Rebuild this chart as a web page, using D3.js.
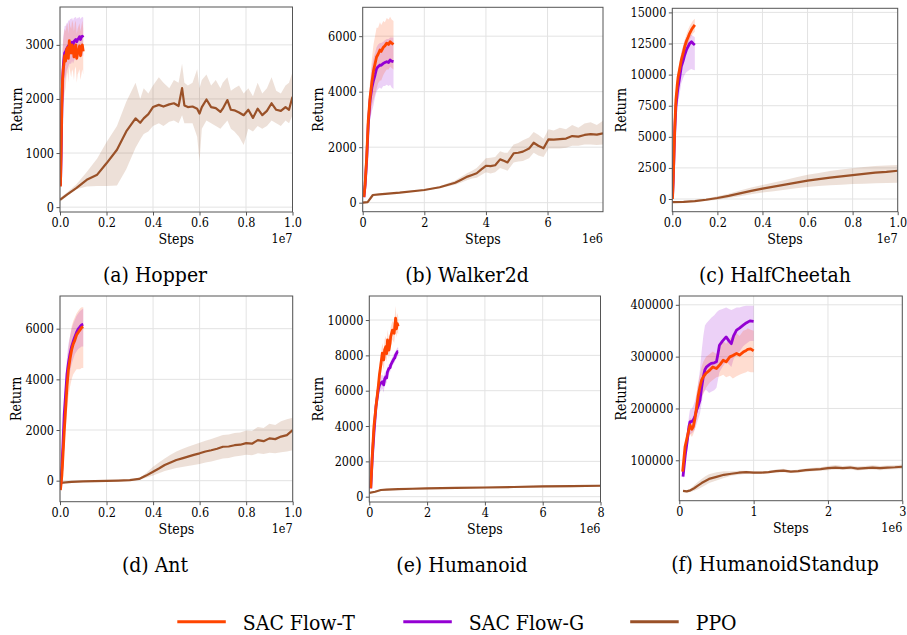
<!DOCTYPE html>
<html>
<head>
<meta charset="utf-8">
<script src="https://cdn.jsdelivr.net/npm/d3@7/dist/d3.min.js"></script>
<style>
  html, body { margin: 0; padding: 0; background: #fff; }
  svg { display: block; }
</style>
</head>
<body>
<svg id="chart" width="907" height="635"></svg>
<script>
// ---- series colours ----
const COLOR_T = "#ff4500";
const COLOR_G = "#9400d3";
const COLOR_PPO = "#9a5128";
const FONT = "'DejaVu Serif Condensed', 'DejaVu Serif', serif";
const legendLabels = ["SAC Flow-T", "SAC Flow-G", "PPO"];

// ---- Hopper (steps in millions) ----
const hopperT_x = [0.02,0.05,0.08,0.11,0.14,0.17,0.2,0.24,0.28,0.32,0.36,0.4,0.44,0.48,0.52,0.56,0.6,0.64,0.68,0.72,0.76,0.8,0.84,0.88,0.92,0.96,1.0];
const hopperT_y = [380,1100,1900,2350,2550,2650,2800,2700,2900,2950,2750,3080,2900,2850,3000,2950,2780,2950,3000,2750,2850,2900,2980,2800,2900,3000,2880];
const hopperT_lo = [300,700,1300,1700,1900,2000,2100,2200,2400,2500,2300,2600,2500,2400,2550,2500,2350,2550,2600,2300,2450,2500,2550,2350,2450,2550,2450];
const hopperT_hi = [460,1500,2500,2900,3100,3200,3300,3250,3350,3400,3200,3450,3350,3300,3450,3400,3250,3400,3450,3200,3300,3350,3400,3250,3350,3450,3300];
const hopperG_y = [400,950,1800,2350,2600,2750,2850,2880,2920,2950,2980,3000,3010,3020,3050,3000,3060,3080,3100,3060,3100,3120,3150,3100,3150,3160,3140];
const hopperG_lo = [330,650,1300,1800,2000,2100,2300,2400,2500,2550,2600,2650,2650,2650,2700,2650,2700,2750,2750,2700,2750,2800,2800,2750,2800,2800,2800];
const hopperG_hi = [470,1300,2300,2900,3150,3250,3350,3350,3400,3400,3450,3450,3480,3480,3500,3450,3500,3500,3520,3480,3500,3500,3520,3480,3500,3520,3500];
const hopperP_x = [0,0.3,0.7,1.15,1.6,2.0,2.45,2.85,3.25,3.45,3.6,3.8,4.0,4.25,4.45,4.7,4.9,5.1,5.25,5.35,5.5,5.7,5.9,6.0,6.1,6.3,6.5,6.7,6.9,7.0,7.2,7.35,7.5,7.7,7.9,8.1,8.3,8.5,8.7,8.9,9.1,9.3,9.5,9.7,9.85,10];
const hopperP_y = [135,230,350,505,600,810,1060,1400,1640,1560,1640,1720,1850,1890,1860,1900,1920,1870,2200,1880,1850,1860,1820,1730,1850,1990,1850,1830,1760,1820,1980,1800,1790,1750,1700,1800,1650,1820,1700,1780,1920,1800,1780,1850,1800,2040];
const hopperP_lo = [100,200,330,380,390,390,400,700,1100,1250,1350,1400,1500,1550,1500,1580,1600,1550,1700,1550,1550,1550,1300,850,1450,1600,1550,1500,1450,1500,1600,1450,1400,1300,1150,1450,1400,1500,1450,1500,1600,1550,1500,1600,1550,1700];
const hopperP_hi = [170,270,420,650,900,1200,1500,1950,2300,2000,2200,2100,2250,2400,2300,2200,2350,2300,2650,2300,2250,2300,2550,2200,2350,2450,2250,2350,2200,2300,2400,2150,2200,2250,2100,2200,2050,2300,2100,2200,2400,2150,2100,2250,2300,2500];

// ---- Walker2d ----
const walkerT_x = [0.04,0.08,0.13,0.18,0.24,0.3,0.35,0.4,0.45,0.5,0.56,0.6,0.67,0.72,0.78,0.84,0.89,0.94,1.0];
const walkerT_y = [200,700,1650,2950,3800,4350,4750,5000,5250,5350,5500,5450,5600,5650,5750,5700,5800,5750,5700];
const walkerT_lo = [150,450,1200,2300,3100,3500,3700,3900,4100,4300,4400,4400,4600,4700,4800,4800,4900,4850,4800];
const walkerT_hi = [250,950,2100,3500,4400,5200,5700,6000,6300,6300,6500,6400,6550,6500,6650,6600,6700,6600,6550];
const walkerG_y = [200,650,1550,2800,3700,4150,4400,4600,4830,4900,4960,4950,5020,5050,5080,5050,5140,5100,5080];
const walkerG_lo = [150,450,1100,2200,3000,3300,3500,3800,4000,4100,4150,4100,4200,4200,4250,4200,4250,4150,4100];
const walkerG_hi = [250,850,2000,3300,4300,4900,5200,5400,5600,5700,5750,5750,5800,5850,5900,5900,5950,5950,5950];
const walkerP_x = [0,0.16,0.33,0.54,1.2,2.0,2.5,3.0,3.2,3.4,3.55,3.7,3.85,4.0,4.15,4.3,4.46,4.6,4.7,4.9,5.05,5.2,5.4,5.55,5.7,5.87,6.03,6.2,6.4,6.6,6.8,7.0,7.2,7.4,7.6,7.8];
const walkerP_y = [0,20,277,300,360,458,555,720,830,940,1000,1060,1200,1330,1320,1350,1560,1500,1450,1780,1800,1840,1950,2160,2050,1960,2280,2270,2290,2310,2400,2380,2440,2470,2450,2500];
const walkerP_lo = [-30,-10,250,280,340,440,520,650,730,820,870,900,1000,1100,1050,1100,1250,1200,1150,1450,1480,1500,1600,1800,1700,1650,1950,1950,1950,1980,2050,2050,2100,2100,2080,2100];
const walkerP_hi = [30,50,300,320,380,480,590,800,930,1070,1150,1250,1420,1600,1620,1650,1850,1800,1800,2100,2150,2250,2350,2550,2450,2300,2650,2600,2700,2650,2800,2700,2850,2900,2800,2950];

// ---- HalfCheetah ----
const cheetahT_x = [0.01,0.04,0.075,0.11,0.16,0.22,0.26,0.33,0.4,0.48,0.55,0.63,0.7,0.77,0.85,0.92,1.0];
const cheetahT_y = [0,1500,3670,5800,7960,9200,9830,10500,11180,11700,12250,12700,13000,13320,13600,13800,13990];
const cheetahT_lo = [-100,1000,3000,5000,7200,8500,9200,9900,10600,11100,11700,12150,12450,12800,13100,13300,13450];
const cheetahT_hi = [100,2000,4300,6600,8700,9900,10450,11100,11750,12300,12800,13250,13600,13900,14150,14350,14500];
const cheetahG_y = [200,1400,3500,5500,7420,8500,9030,9800,10640,11100,11580,12000,12250,12500,12650,12500,12380];
const cheetahG_lo = [-100,800,2700,4500,6200,7300,7800,8500,9300,9700,10000,10200,10300,10400,10450,10400,10350];
const cheetahG_hi = [400,2000,4300,6500,8600,9700,10200,11000,11800,12300,12700,13000,13100,13200,13200,13100,13000];
const cheetahP_x = [0,0.5,1.0,1.5,2.0,2.5,3.0,3.5,4.0,4.5,5.0,5.5,6.0,6.5,7.0,7.5,8.0,8.5,9.0,9.5,10];
const cheetahP_y = [-250,-230,-170,-60,80,250,450,650,830,990,1150,1320,1480,1600,1720,1820,1920,2020,2120,2180,2270];
const cheetahP_lo = [-300,-280,-230,-150,-50,80,230,380,520,630,750,860,960,1040,1100,1150,1200,1230,1260,1280,1310];
const cheetahP_hi = [-200,-180,-100,40,220,430,680,920,1130,1330,1520,1750,1950,2100,2250,2380,2480,2580,2650,2700,2730];

// ---- Ant ----
const antT_x = [0.02,0.08,0.13,0.18,0.24,0.3,0.36,0.43,0.5,0.57,0.64,0.71,0.78,0.86,0.93,1.0];
const antT_y = [-370,200,1030,1900,2800,3700,4370,4800,5160,5400,5550,5750,5850,5950,6050,6080];
const antT_lo = [-450,0,600,1300,2000,2700,3300,3700,4000,4200,4300,4400,4400,4400,4450,4450];
const antT_hi = [-250,400,1450,2500,3500,4500,5200,5700,6100,6300,6450,6600,6700,6800,6850,6850];
const antG_y = [-300,500,1500,2600,3400,4200,4630,5000,5290,5500,5680,5850,5980,6075,6150,6170];
const antG_lo = [-400,200,1000,2000,2800,3500,3900,4300,4600,4800,5000,5100,5200,5250,5300,5300];
const antG_hi = [-200,800,2000,3200,4000,4900,5400,5700,6000,6200,6350,6500,6600,6700,6750,6800];
const antP_x = [0,0.5,1.0,1.5,2.0,2.5,3.0,3.4,3.7,4.0,4.25,4.5,4.75,5.0,5.25,5.5,5.75,6.0,6.25,6.5,6.75,7.0,7.25,7.5,7.75,8.0,8.25,8.5,8.75,9.0,9.25,9.5,9.75,10];
const antP_y = [-90,-50,-30,-20,-10,0,20,70,200,350,480,620,720,815,880,950,1020,1080,1150,1200,1260,1340,1350,1400,1420,1480,1460,1600,1560,1670,1640,1740,1800,2000];
const antP_lo = [-110,-70,-50,-40,-30,-20,0,40,120,200,290,380,440,500,540,580,620,660,720,760,820,880,900,950,980,1020,1000,1080,1050,1100,1080,1120,1150,1200];
const antP_hi = [-70,-30,-10,0,10,20,40,110,300,550,720,880,1020,1150,1250,1340,1420,1500,1580,1650,1720,1800,1820,1880,1900,1980,1960,2120,2080,2250,2200,2350,2420,2480];

// ---- Humanoid ----
const humT_x = [0.05,0.1,0.16,0.23,0.31,0.35,0.39,0.45,0.5,0.53,0.57,0.6,0.63,0.68,0.72,0.74,0.8,0.86,0.88,0.91,0.94,0.97,1.0];
const humT_y = [475,2260,3960,5090,6230,6900,7360,8120,7740,8300,8490,8100,8870,8300,8700,9060,9430,9250,9600,10100,9500,9800,9650];
const humT_lo = [400,1900,3500,4600,5700,6300,6800,7500,7200,7700,7900,7600,8300,7800,8200,8500,8900,8700,9000,9500,9000,9300,9200];
const humT_hi = [550,2600,4400,5600,6750,7500,7900,8700,8300,8900,9100,8700,9450,8900,9200,9600,9950,9800,10200,10800,10100,10400,10200];
const humG_y = [475,2100,3580,5090,6040,6300,6420,6510,6330,6650,6790,6720,7075,7264,7300,7450,7640,7830,7850,8020,8100,8206,8206];
const humG_lo = [420,1800,3200,4700,5600,5900,6000,6100,5900,6300,6500,6400,6800,7000,7050,7200,7400,7600,7600,7800,7850,7950,7950];
const humG_hi = [530,2400,3950,5450,6450,6700,6850,6900,6800,7000,7100,7000,7350,7500,7550,7700,7900,8100,8150,8250,8350,8450,8450];
const humP_x = [0,0.2,0.4,0.6,1.0,1.5,2.0,3.0,4.0,5.0,6.0,7.0,8.0];
const humP_y = [220,280,380,400,430,450,470,500,520,550,580,600,620];
const humP_lo = [190,240,330,350,380,400,420,450,470,490,520,540,560];
const humP_hi = [250,320,430,450,480,500,520,550,570,610,640,660,680];

// ---- HumanoidStandup ----
const standT_x = [0.045,0.077,0.108,0.144,0.17,0.188,0.21,0.233,0.255,0.278,0.3,0.323,0.36,0.41,0.45,0.5,0.55,0.59,0.63,0.68,0.72,0.77,0.81,0.86,0.9,0.92,0.96,1.0];
const standT_y = [78000,126000,145500,168000,160000,165000,180000,203000,225000,241800,255000,261000,268000,274000,280000,277000,285000,293000,290000,299600,302000,306000,303000,308800,312000,313900,315000,311200];
const standT_lo = [72000,110000,132000,150000,145000,150000,160000,180000,200000,215000,222000,228000,240000,250000,255000,260000,262000,265000,260000,263000,258000,262000,265000,268000,270000,272000,270000,270000];
const standT_hi = [84000,140000,160000,182000,178000,182000,200000,230000,250000,265000,280000,290000,300000,305000,310000,305000,320000,330000,325000,335000,340000,345000,340000,350000,352000,355000,352000,350000];
const standG_x = [0.05,0.08,0.108,0.13,0.144,0.17,0.188,0.21,0.233,0.255,0.278,0.3,0.323,0.345,0.367,0.4,0.43,0.47,0.5,0.52,0.54,0.58,0.63,0.67,0.7,0.73,0.77,0.81,0.86,0.9,0.95,1.0];
const standG_y = [68400,110000,139000,165000,174000,175000,177700,185000,197000,205000,216000,240000,261000,275000,280400,284000,287000,288000,290000,305000,322000,330000,338000,330000,325000,340000,351000,355000,360700,365000,369000,368000];
const standG_lo = [62000,95000,120000,145000,150000,152000,155000,160000,170000,180000,190000,210000,230000,235000,235000,230000,232000,235000,240000,255000,270000,280000,290000,285000,280000,295000,305000,310000,320000,325000,330000,330000];
const standG_hi = [75000,125000,158000,185000,198000,200000,205000,215000,230000,250000,275000,310000,340000,360000,365000,370000,375000,380000,385000,388000,390000,392000,395000,392000,390000,392000,395000,395000,397000,398000,398000,398000];
const standP_x = [0.05,0.1,0.15,0.2,0.25,0.3,0.35,0.4,0.5,0.6,0.7,0.8,0.9,1.0,1.1,1.2,1.3,1.4,1.5,1.6,1.7,1.8,1.9,2.0,2.1,2.2,2.3,2.4,2.5,2.6,2.7,2.8,2.9,3.0];
const standP_y = [40800,40000,42000,46000,51000,56000,60000,64000,68000,72000,74000,76000,77000,76000,76000,77000,79000,80000,78000,79000,81000,82000,83000,85000,86000,85000,86000,84000,85000,86000,85000,86000,86500,87500];
const standP_lo = [39000,38000,39000,41000,44000,48000,52000,56000,61000,66000,70000,72000,74000,73500,74000,75000,76000,77000,76000,76500,78000,79000,80000,81000,82000,81500,82000,80500,81500,82000,81000,82000,82500,83000];
const standP_hi = [42500,42000,45000,52000,58000,64000,69000,73000,77000,79000,79000,80000,80000,79000,78500,79500,82000,83500,80500,82000,84000,85500,86500,89000,91000,89000,90000,88000,89000,90500,89000,90000,90500,92000];

// ---- axis ticks ----
const ticks1e7 = [0, 0.2e7, 0.4e7, 0.6e7, 0.8e7, 1e7];
const hopperYTicks = [0, 1000, 2000, 3000];
const walkerXTicks = [0, 2e6, 4e6, 6e6];
const walkerYTicks = [0, 2000, 4000, 6000];
const cheetahYTicks = [0, 2500, 5000, 7500, 10000, 12500, 15000];
const antYTicks = [0, 2000, 4000, 6000];
const humXTicks = [0, 2e6, 4e6, 6e6, 8e6];
const humYTicks = [0, 2000, 4000, 6000, 8000, 10000];
const standXTicks = [0, 1e6, 2e6, 3e6];
const standYTicks = [100000, 200000, 300000, 400000];

// bundle a series from its arrays (x stored in millions of steps)
function series(x, y, lo, hi, color, width) {
  return { color, width, pts: x.map((v, i) => ({ x: v * 1e6, y: y[i], lo: lo[i], hi: hi[i] })) };
}

const fmt1e7 = d => (d / 1e7).toFixed(1);
const fmt1e6 = d => String(Math.round(d / 1e6));

const panels = [
  { title: "(a) Hopper", titleX: 155, box: [60, 7, 292.5, 212], yLabelX: 16.7, xMax: 1e7, xTicks: ticks1e7, xFmt: fmt1e7, exp: "1e7",
    yDomain: [-90, 3700], yTicks: hopperYTicks,
    series: [series(hopperP_x, hopperP_y, hopperP_lo, hopperP_hi, COLOR_PPO, 2.2),
             series(hopperT_x, hopperG_y, hopperG_lo, hopperG_hi, COLOR_G, 2.8),
             series(hopperT_x, hopperT_y, hopperT_lo, hopperT_hi, COLOR_T, 2.8)] },
  { title: "(b) Walker2d", titleX: 467, box: [362.7, 7.3, 603, 211.7], yLabelX: 318.3, xMax: 7.8e6, xTicks: walkerXTicks, xFmt: fmt1e6, exp: "1e6",
    yDomain: [-325, 7040], yTicks: walkerYTicks,
    series: [series(walkerP_x, walkerP_y, walkerP_lo, walkerP_hi, COLOR_PPO, 2.2),
             series(walkerT_x, walkerG_y, walkerG_lo, walkerG_hi, COLOR_G, 2.8),
             series(walkerT_x, walkerT_y, walkerT_lo, walkerT_hi, COLOR_T, 2.8)] },
  { title: "(c) HalfCheetah", titleX: 775, box: [672.3, 8.3, 897.7, 211.7], yLabelX: 620.7, xMax: 1e7, xTicks: ticks1e7, xFmt: fmt1e7, exp: "1e7",
    yDomain: [-1020, 15330], yTicks: cheetahYTicks,
    series: [series(cheetahP_x, cheetahP_y, cheetahP_lo, cheetahP_hi, COLOR_PPO, 2.2),
             series(cheetahT_x, cheetahG_y, cheetahG_lo, cheetahG_hi, COLOR_G, 2.8),
             series(cheetahT_x, cheetahT_y, cheetahT_lo, cheetahT_hi, COLOR_T, 2.8)] },
  { title: "(d) Ant", titleX: 155, box: [60, 296, 292.7, 501.7], yLabelX: 15.5, xMax: 1e7, xTicks: ticks1e7, xFmt: fmt1e7, exp: "1e7",
    yDomain: [-830, 7290], yTicks: antYTicks,
    series: [series(antP_x, antP_y, antP_lo, antP_hi, COLOR_PPO, 2.2),
             series(antT_x, antG_y, antG_lo, antG_hi, COLOR_G, 2.8),
             series(antT_x, antT_y, antT_lo, antT_hi, COLOR_T, 2.8)] },
  { title: "(e) Humanoid", titleX: 462, box: [369.3, 296, 600.5, 502], yLabelX: 318.3, xMax: 8e6, xTicks: humXTicks, xFmt: fmt1e6, exp: "1e6",
    yDomain: [-300, 11360], yTicks: humYTicks,
    series: [series(humP_x, humP_y, humP_lo, humP_hi, COLOR_PPO, 2.2),
             series(humT_x, humG_y, humG_lo, humG_hi, COLOR_G, 2.8),
             series(humT_x, humT_y, humT_lo, humT_hi, COLOR_T, 2.8)] },
  { title: "(f) HumanoidStandup", titleX: 775, box: [679.3, 296, 902.3, 500.7], yLabelX: 620.7, xMax: 3e6, xTicks: standXTicks, xFmt: fmt1e6, exp: "1e6",
    yDomain: [22000, 417000], yTicks: standYTicks,
    series: [series(standP_x, standP_y, standP_lo, standP_hi, COLOR_PPO, 2.2),
             series(standG_x, standG_y, standG_lo, standG_hi, COLOR_G, 2.8),
             series(standT_x, standT_y, standT_lo, standT_hi, COLOR_T, 2.8)] }
];

const svg = d3.select("#chart");
const defs = svg.append("defs");

panels.forEach((p, idx) => {
  const [x0, y0, x1, y1] = p.box;
  const x = d3.scaleLinear().domain([0, p.xMax]).range([x0, x1]);
  const y = d3.scaleLinear().domain(p.yDomain).range([y1, y0]);
  const g = svg.append("g");

  // grid
  g.append("g").selectAll("line").data(p.xTicks).join("line")
    .attr("x1", d => x(d)).attr("x2", d => x(d)).attr("y1", y0).attr("y2", y1)
    .attr("stroke", "#e3e3e3").attr("stroke-width", 1);
  g.append("g").selectAll("line").data(p.yTicks).join("line")
    .attr("x1", x0).attr("x2", x1).attr("y1", d => y(d)).attr("y2", d => y(d))
    .attr("stroke", "#e3e3e3").attr("stroke-width", 1);

  // clipped plot area
  const clipId = "clip" + idx;
  defs.append("clipPath").attr("id", clipId)
    .append("rect").attr("x", x0).attr("y", y0).attr("width", x1 - x0).attr("height", y1 - y0);
  const plot = g.append("g").attr("clip-path", `url(#${clipId})`);

  const area = d3.area().x(d => x(d.x)).y0(d => y(d.lo)).y1(d => y(d.hi));
  const line = d3.line().x(d => x(d.x)).y(d => y(d.y));

  p.series.forEach(s => {
    plot.append("path").attr("d", area(s.pts)).attr("fill", s.color).attr("fill-opacity", 0.18);
  });
  p.series.forEach(s => {
    plot.append("path").attr("d", line(s.pts)).attr("fill", "none")
      .attr("stroke", s.color).attr("stroke-width", s.width).attr("stroke-linejoin", "round");
  });

  // axes
  const xAxis = d3.axisBottom(x).tickValues(p.xTicks).tickFormat(p.xFmt).tickSize(3.5).tickPadding(2.5);
  const yAxis = d3.axisLeft(y).tickValues(p.yTicks).tickFormat(d => String(d)).tickSize(3.5).tickPadding(2.5);
  const gx = g.append("g").attr("transform", `translate(0,${y1})`).call(xAxis);
  const gy = g.append("g").attr("transform", `translate(${x0},0)`).call(yAxis);
  [gx, gy].forEach(ax => {
    ax.select(".domain").remove();
    ax.selectAll(".tick line").attr("stroke", "#444").attr("stroke-width", 0.9);
    ax.selectAll("text").attr("font-size", 12.5).attr("fill", "#000");
  });

  // frame
  g.append("rect").attr("x", x0).attr("y", y0).attr("width", x1 - x0).attr("height", y1 - y0)
    .attr("fill", "none").attr("stroke", "#555").attr("stroke-width", 1);

  // labels
  g.append("text").attr("x", (x0 + x1) / 2).attr("y", y1 + 32).attr("text-anchor", "middle")
    .attr("font-size", 14).text("Steps");
  g.append("text").attr("x", x1).attr("y", y1 + 31).attr("text-anchor", "end")
    .attr("font-size", 12.5).text(p.exp);
  g.append("text")
    .attr("transform", `translate(${p.yLabelX + 5},${(y0 + y1) / 2}) rotate(-90)`)
    .attr("text-anchor", "middle").attr("font-size", 14).text("Return");

  // subfigure caption
  g.append("text").attr("x", p.titleX).attr("y", y1 + 70).attr("text-anchor", "middle")
    .attr("font-size", 21).text(p.title);
});

// legend
const legendColors = [COLOR_T, COLOR_G, COLOR_PPO];
const legendX = [177.3, 403.3, 630.2];
const lg = svg.append("g");
legendLabels.forEach((label, i) => {
  lg.append("line").attr("x1", legendX[i]).attr("x2", legendX[i] + 48.5)
    .attr("y1", 621.7).attr("y2", 621.7).attr("stroke", legendColors[i]).attr("stroke-width", 3);
  lg.append("text").attr("x", legendX[i] + 65.5).attr("y", 629.5).attr("font-size", 21).text(label);
});

// one typeface for every label
svg.selectAll("g").attr("font-family", null);
svg.selectAll("text").style("font-family", FONT).attr("fill", "#000");
</script>
</body>
</html>
